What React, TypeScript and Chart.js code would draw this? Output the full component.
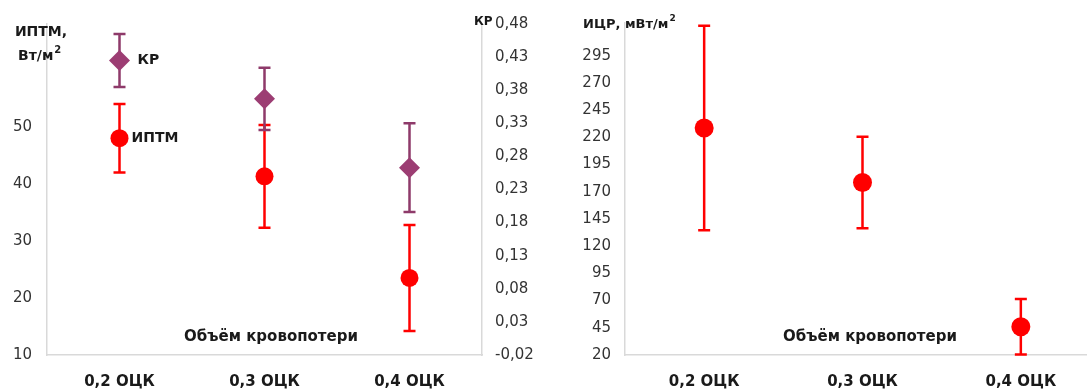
import { useEffect, useRef } from 'react';
import { Chart, registerables } from 'chart.js';

Chart.register(...registerables);

const FONT = "'DejaVu Sans', sans-serif";
Chart.defaults.font.family = FONT;

const categories = ['0,2 ОЦК', '0,3 ОЦК', '0,4 ОЦК'];
const iptmMean = [48, 41.3, 23.5];
const iptmErr = [6, 9, 9.3];
const krMean = [0.425, 0.367, 0.263];
const krErr = [0.04, 0.047, 0.067];
const icrMean = [228.5, 178.5, 46];
const icrErr = [94, 42, 25.5];
const iptmTicks = [10, 20, 30, 40, 50];
const krTicks = [-0.02, 0.03, 0.08, 0.13, 0.18, 0.23, 0.28, 0.33, 0.38, 0.43, 0.48];
const icrTicks = [20, 45, 70, 95, 120, 145, 170, 195, 220, 245, 270, 295];

const RED = '#ff0000';
const PURPLE = '#9c3d73';
const PURPLE_BAR = '#8e3a6a';
const AXIS = '#d9d9d9';
const TEXT = '#1a1a1a';

const errorBarPlugin = {
  id: 'errorBars',
  beforeDatasetsDraw(chart: any) {
    const ctx = chart.ctx;
    chart.data.datasets.forEach((ds: any, di: number) => {
      const errs = ds.errors;
      if (!errs) return;
      const meta = chart.getDatasetMeta(di);
      const scale = chart.scales[meta.yAxisID];
      ctx.save();
      ctx.strokeStyle = ds.errorColor;
      ctx.lineWidth = 2.5;
      meta.data.forEach((el: any, i: number) => {
        const v = ds.data[i];
        const e = errs[i];
        const x = el.x;
        const yt = scale.getPixelForValue(v + e);
        const yb = scale.getPixelForValue(v - e);
        ctx.beginPath();
        ctx.moveTo(x, yt);
        ctx.lineTo(x, yb);
        ctx.moveTo(x - 6, yt);
        ctx.lineTo(x + 6, yt);
        ctx.moveTo(x - 6, yb);
        ctx.lineTo(x + 6, yb);
        ctx.stroke();
      });
      ctx.restore();
    });
  },
};

function drawText(ctx: any, text: string, x: number, y: number, size: number, align: string, bold = true) {
  ctx.font = `${bold ? 'bold ' : ''}${size}px ${FONT}`;
  ctx.textAlign = align;
  ctx.textBaseline = 'middle';
  ctx.fillStyle = TEXT;
  ctx.fillText(text, x, y);
}

function drawUnit(ctx: any, text: string, x: number, y: number, size: number) {
  drawText(ctx, text, x, y, size, 'left');
  const w = ctx.measureText(text).width;
  drawText(ctx, '2', x + w + 1, y - 6, Math.round(size * 0.7), 'left');
}

const leftTextPlugin = {
  id: 'leftText',
  afterDraw(chart: any) {
    const ctx = chart.ctx;
    ctx.save();
    drawText(ctx, 'ИПТМ,', 41, 32, 14, 'center');
    drawUnit(ctx, 'Вт/м', 18, 56, 14);
    drawText(ctx, 'КР', 474, 22, 12, 'left');
    const m0 = chart.getDatasetMeta(0).data[0];
    const m1 = chart.getDatasetMeta(1).data[0];
    drawText(ctx, 'ИПТМ', m0.x + 12, m0.y, 14, 'left');
    drawText(ctx, 'КР', m1.x + 18, m1.y, 14, 'left');
    drawText(ctx, 'Объём кровопотери', 271, 337, 15, 'center');
    ctx.restore();
  },
};

const rightTextPlugin = {
  id: 'rightText',
  afterDraw(chart: any) {
    const ctx = chart.ctx;
    ctx.save();
    drawUnit(ctx, 'ИЦР, мВт/м', 23, 25, 13);
    drawText(ctx, 'Объём кровопотери', 310, 337, 15, 'center');
    ctx.restore();
  },
};

const xScale = () => ({
  type: 'category',
  offset: true,
  grid: { display: false, drawTicks: false },
  border: { color: AXIS, width: 1.5 },
  ticks: { font: { size: 15, weight: 'bold' }, color: TEXT, padding: 18, maxRotation: 0 },
  afterFit: (s: any) => {
    s.height = 35;
    s.paddingLeft = 0;
    s.paddingRight = 0;
  },
});

function leftConfig(): any {
  return {
    type: 'line',
    data: {
      labels: categories,
      datasets: [
        {
          label: 'ИПТМ',
          data: iptmMean,
          errors: iptmErr,
          errorColor: RED,
          yAxisID: 'y',
          showLine: false,
          pointStyle: 'circle',
          pointRadius: 9,
          pointBackgroundColor: RED,
          pointBorderColor: RED,
          pointBorderWidth: 0,
        },
        {
          label: 'КР',
          data: krMean,
          errors: krErr,
          errorColor: PURPLE_BAR,
          yAxisID: 'y1',
          showLine: false,
          pointStyle: 'rectRot',
          pointRadius: 10.5,
          pointBackgroundColor: PURPLE,
          pointBorderColor: PURPLE,
          pointBorderWidth: 0,
        },
      ],
    },
    options: {
      responsive: false,
      animation: false,
      layout: { autoPadding: false, padding: { top: 21, left: 0, right: 0, bottom: 0 } },
      plugins: { legend: { display: false }, tooltip: { enabled: false } },
      scales: {
        x: xScale(),
        y: {
          position: 'left',
          min: 10,
          max: 68,
          grid: { display: false, drawTicks: false },
          border: { color: AXIS, width: 1.5 },
          afterBuildTicks: (s: any) => {
            s.ticks = iptmTicks.map((v) => ({ value: v }));
          },
          ticks: { font: { size: 15 }, color: '#333', padding: 15 },
          afterFit: (s: any) => {
            s.width = 47;
          },
        },
        y1: {
          position: 'right',
          min: -0.02,
          max: 0.48,
          grid: { display: false, drawTicks: false },
          border: { color: AXIS, width: 1.5 },
          afterBuildTicks: (s: any) => {
            s.ticks = krTicks.map((v) => ({ value: v }));
          },
          ticks: {
            font: { size: 15 },
            color: '#333',
            padding: 13,
            callback: (v: any) => Number(v).toFixed(2).replace('.', ','),
          },
          afterFit: (s: any) => {
            s.width = 78;
          },
        },
      },
    },
    plugins: [errorBarPlugin, leftTextPlugin],
  };
}

function rightConfig(): any {
  return {
    type: 'line',
    data: {
      labels: categories,
      datasets: [
        {
          label: 'ИЦР',
          data: icrMean,
          errors: icrErr,
          errorColor: RED,
          yAxisID: 'y',
          showLine: false,
          pointStyle: 'circle',
          pointRadius: 9.5,
          pointBackgroundColor: RED,
          pointBorderColor: RED,
          pointBorderWidth: 0,
        },
      ],
    },
    options: {
      responsive: false,
      animation: false,
      layout: { autoPadding: false, padding: { top: 20, left: 0, right: 0, bottom: 0 } },
      plugins: { legend: { display: false }, tooltip: { enabled: false } },
      scales: {
        x: xScale(),
        y: {
          position: 'left',
          min: 20,
          max: 325,
          grid: { display: false, drawTicks: false },
          border: { color: AXIS, width: 1.5 },
          afterBuildTicks: (s: any) => {
            s.ticks = icrTicks.map((v) => ({ value: v }));
          },
          ticks: { font: { size: 15 }, color: '#333', padding: 14 },
          afterFit: (s: any) => {
            s.width = 65;
          },
        },
      },
    },
    plugins: [errorBarPlugin, rightTextPlugin],
  };
}

export default function App() {
  const leftRef = useRef<HTMLCanvasElement>(null);
  const rightRef = useRef<HTMLCanvasElement>(null);

  useEffect(() => {
    const c1 = new Chart(leftRef.current as HTMLCanvasElement, leftConfig());
    const c2 = new Chart(rightRef.current as HTMLCanvasElement, rightConfig());
    return () => {
      c1.destroy();
      c2.destroy();
    };
  }, []);

  return (
    <div
      style={{
        position: 'absolute',
        left: 0,
        top: 0,
        width: 1087,
        height: 390,
        overflow: 'hidden',
        background: '#fff',
      }}
    >
      <canvas ref={leftRef} width={560} height={390} style={{ position: 'absolute', left: 0, top: 0 }} />
      <canvas ref={rightRef} width={540} height={390} style={{ position: 'absolute', left: 560, top: 0 }} />
    </div>
  );
}
